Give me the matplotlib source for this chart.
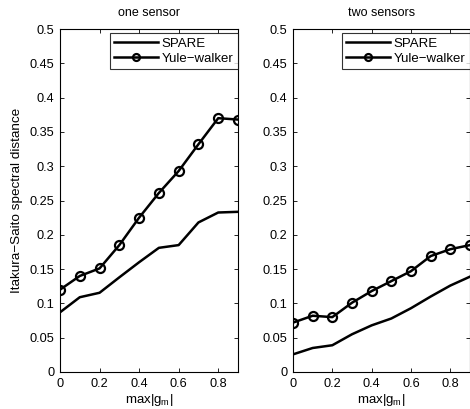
import matplotlib
matplotlib.use("Agg")
import matplotlib.pyplot as plt
from matplotlib.ticker import FuncFormatter

plt.rcParams["font.family"] = ["Liberation Sans", "DejaVu Sans"]
plt.rcParams["font.size"] = 9

g_max = [0.0, 0.1, 0.2, 0.3, 0.4, 0.5, 0.6, 0.7, 0.8, 0.9]

one_spare = [0.087, 0.109, 0.1155, 0.138, 0.160, 0.181, 0.185, 0.218, 0.2325, 0.2335]
one_yule = [0.120, 0.140, 0.151, 0.185, 0.225, 0.261, 0.293, 0.332, 0.370, 0.368]

two_spare = [0.0257, 0.035, 0.039, 0.055, 0.068, 0.078, 0.093, 0.110, 0.126, 0.139]
two_yule = [0.072, 0.082, 0.080, 0.101, 0.118, 0.1325, 0.147, 0.169, 0.179, 0.185]

titles = ["one sensor", "two sensors"]
y_ticks = [0, 0.05, 0.1, 0.15, 0.2, 0.25, 0.3, 0.35, 0.4, 0.45, 0.5]
x_ticks = [0, 0.2, 0.4, 0.6, 0.8]


def fmt(v, _pos):
    return f"{v:g}"


fig = plt.figure(figsize=(4.7, 4.09), dpi=100)
ax1 = fig.add_axes([60 / 470, 37 / 409, 178 / 470, 343 / 409])
ax2 = fig.add_axes([293 / 470, 37 / 409, 177 / 470, 343 / 409])

for ax, title, spare, yule in [
    (ax1, titles[0], one_spare, one_yule),
    (ax2, titles[1], two_spare, two_yule),
]:
    ax.plot(g_max, spare, color="black", lw=1.8, label="SPARE")
    ax.plot(g_max, yule, color="black", lw=1.8, marker="o", ms=6.5,
            mfc="none", mew=1.6, label="Yule\u2212walker")
    ax.set_xlim(0, 0.9)
    ax.set_ylim(0, 0.5)
    ax.set_xticks(x_ticks)
    ax.set_yticks(y_ticks)
    ax.xaxis.set_major_formatter(FuncFormatter(fmt))
    ax.yaxis.set_major_formatter(FuncFormatter(fmt))
    ax.tick_params(direction="in", top=True, right=True, length=3,
                   width=0.6, labelsize=9.2, pad=4)
    for s in ax.spines.values():
        s.set_linewidth(0.8)
    ax.set_title(title, fontsize=9, pad=9)
    ax.set_xlabel("max|g$_\\mathregular{m}$|", fontsize=9.5, labelpad=2)
    leg = ax.legend(loc="upper right", bbox_to_anchor=(1.0, 0.988),
                    fontsize=9.5, frameon=True, fancybox=False,
                    borderaxespad=0, handlelength=3.3, borderpad=0.35,
                    labelspacing=0.2, handletextpad=0.3)
    leg.get_frame().set_edgecolor("black")
    leg.get_frame().set_linewidth(0.8)
    leg.legend_handles[1].set_markersize(5)

ax1.set_ylabel("Itakura\u2212Saito spectral distance", fontsize=9.7, labelpad=5)

fig.savefig("out.png", dpi=100)
